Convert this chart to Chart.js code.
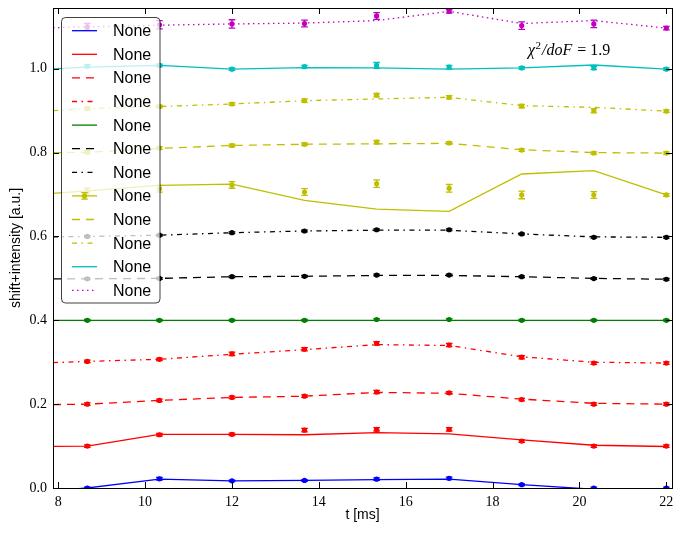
<!DOCTYPE html>
<html>
<head>
<meta charset="utf-8">
<script src="https://cdn.jsdelivr.net/npm/chart.js@4.4.1/dist/chart.umd.min.js"></script>
<style>
  html, body { margin: 0; padding: 0; background: #fff; }
  canvas { display: block; }
</style>
</head>
<body>
<canvas id="chart" width="683" height="533"></canvas>
<script>
// times of the measured points and of the fitted curves [ms]
const tPoints = [8.67, 10.33, 12.0, 13.67, 15.33, 17.0, 18.67, 20.33, 22.0];
const tFit = [7.88, 8.67, 10.33, 12.0, 13.67, 15.33, 17.0, 18.67, 20.33, 22.0];

const xTicks = [8, 10, 12, 14, 16, 18, 20, 22];
const yTicks = [0.0, 0.2, 0.4, 0.6, 0.8, 1.0];

const seriesLabels = ['None', 'None', 'None', 'None', 'None', 'None',
  'None', 'None', 'None', 'None', 'None', 'None'];

// fitted curves, one row per series (already shifted by 0.1 each)
const fitValues = [
  [-0.006, 0.000, 0.021, 0.017, 0.018, 0.020, 0.021, 0.008, -0.003, -0.003],
  [0.0995, 0.100, 0.128, 0.128, 0.127, 0.132, 0.129, 0.115, 0.102, 0.099],
  [0.199, 0.200, 0.209, 0.216, 0.219, 0.228, 0.226, 0.212, 0.202, 0.200],
  [0.299, 0.302, 0.307, 0.319, 0.330, 0.342, 0.340, 0.313, 0.300, 0.298],
  [0.400, 0.400, 0.400, 0.400, 0.400, 0.400, 0.400, 0.400, 0.400, 0.400],
  [0.499, 0.499, 0.500, 0.504, 0.505, 0.507, 0.507, 0.504, 0.500, 0.498],
  [0.599, 0.600, 0.603, 0.609, 0.613, 0.615, 0.615, 0.606, 0.599, 0.598],
  [0.703, 0.709, 0.722, 0.725, 0.686, 0.665, 0.660, 0.749, 0.757, 0.699],
  [0.800, 0.801, 0.810, 0.817, 0.820, 0.821, 0.822, 0.807, 0.800, 0.799],
  [0.900, 0.905, 0.910, 0.916, 0.924, 0.928, 0.932, 0.912, 0.908, 0.899],
  [1.000, 1.004, 1.008, 0.999, 1.003, 1.002, 0.999, 1.002, 1.009, 0.999],
  [1.098, 1.100, 1.104, 1.107, 1.109, 1.115, 1.137, 1.108, 1.115, 1.097]
];

// measured points
const pointValues = [
  [0.000, 0.022, 0.017, 0.018, 0.021, 0.023, 0.008, 0.000, 0.000],
  [0.100, 0.127, 0.128, 0.138, 0.140, 0.140, 0.112, 0.100, 0.100],
  [0.200, 0.209, 0.216, 0.219, 0.229, 0.227, 0.211, 0.200, 0.200],
  [0.302, 0.307, 0.320, 0.331, 0.345, 0.341, 0.312, 0.298, 0.298],
  [0.400, 0.400, 0.400, 0.400, 0.402, 0.402, 0.400, 0.400, 0.400],
  [0.499, 0.500, 0.504, 0.505, 0.508, 0.508, 0.504, 0.4995, 0.498],
  [0.600, 0.603, 0.609, 0.613, 0.616, 0.616, 0.606, 0.598, 0.598],
  [0.707, 0.714, 0.723, 0.706, 0.726, 0.715, 0.699, 0.699, 0.699],
  [0.801, 0.811, 0.817, 0.820, 0.825, 0.823, 0.806, 0.799, 0.799],
  [0.905, 0.910, 0.916, 0.924, 0.937, 0.932, 0.911, 0.900, 0.899],
  [1.006, 1.008, 0.999, 1.005, 1.008, 1.004, 1.002, 1.002, 0.999],
  [1.100, 1.105, 1.107, 1.108, 1.126, 1.137, 1.103, 1.107, 1.097]
];

// error bars (half widths)
const pointErrors = [
  [0.002, 0.003, 0.002, 0.002, 0.003, 0.003, 0.002, 0.002, 0.002],
  [0.003, 0.003, 0.003, 0.004, 0.004, 0.004, 0.003, 0.003, 0.003],
  [0.003, 0.003, 0.003, 0.003, 0.004, 0.003, 0.003, 0.003, 0.003],
  [0.003, 0.003, 0.004, 0.004, 0.004, 0.004, 0.004, 0.003, 0.003],
  [0.002, 0.002, 0.002, 0.002, 0.002, 0.002, 0.002, 0.002, 0.002],
  [0.002, 0.002, 0.002, 0.002, 0.002, 0.002, 0.002, 0.002, 0.002],
  [0.002, 0.002, 0.002, 0.002, 0.002, 0.002, 0.002, 0.002, 0.002],
  [0.008, 0.008, 0.008, 0.008, 0.009, 0.009, 0.009, 0.008, 0.003],
  [0.003, 0.003, 0.003, 0.003, 0.004, 0.003, 0.003, 0.003, 0.003],
  [0.003, 0.003, 0.003, 0.004, 0.004, 0.004, 0.004, 0.005, 0.003],
  [0.003, 0.003, 0.003, 0.003, 0.007, 0.004, 0.003, 0.004, 0.003],
  [0.008, 0.010, 0.010, 0.008, 0.008, 0.004, 0.009, 0.009, 0.004]
];

const colors = ['#0000ff', '#ff0000', '#ff0000', '#ff0000', '#008000', '#000000',
  '#000000', '#bfbf00', '#bfbf00', '#bfbf00', '#00bfbf', '#bf00bf'];
const DASH = [8, 6];
const DASHDOT = [5, 4.5, 1.5, 4.5];
const DOT = [1.5, 3.5];
const dashes = [[], [], DASH, DASHDOT, [], DASH, DASHDOT, [], DASH, DASHDOT, [], DOT];

const SERIF = '"Liberation Serif", "Times New Roman", serif';
const SANS = '"Liberation Sans", Arial, sans-serif';

const datasets = [];
colors.forEach((color, k) => {
  datasets.push({
    label: seriesLabels[k],
    data: tFit.map((t, i) => ({ x: t, y: fitValues[k][i] })),
    borderColor: color,
    borderWidth: 1.3,
    borderDash: dashes[k],
    pointRadius: 0,
    fill: false,
    tension: 0,
    clip: 0,
    isFit: true,
  });
});
colors.forEach((color, k) => {
  datasets.push({
    label: seriesLabels[k],
    data: tPoints.map((t, i) => ({ x: t, y: pointValues[k][i] })),
    showLine: false,
    pointRadius: 2.6,
    pointBorderWidth: 0,
    pointBackgroundColor: color,
    borderColor: color,
    clip: 0,
    errors: pointErrors[k],
  });
});

// error bars, frame with inward ticks, chi^2 note and the see-through legend
const decorations = {
  id: 'decorations',
  afterDatasetsDraw(chart) {
    const { ctx, chartArea: a } = chart;
    const yScale = chart.scales.y;
    ctx.save();
    ctx.beginPath();
    ctx.rect(a.left, a.top, a.right - a.left, a.bottom - a.top);
    ctx.clip();
    chart.data.datasets.forEach((ds, i) => {
      if (!ds.errors) return;
      const meta = chart.getDatasetMeta(i);
      ctx.strokeStyle = ds.borderColor;
      ctx.lineWidth = 1.3;
      meta.data.forEach((pt, j) => {
        const v = ds.data[j].y;
        const y1 = yScale.getPixelForValue(v - ds.errors[j]);
        const y2 = yScale.getPixelForValue(v + ds.errors[j]);
        ctx.beginPath();
        ctx.moveTo(pt.x, y1); ctx.lineTo(pt.x, y2);
        ctx.moveTo(pt.x - 3.3, y1); ctx.lineTo(pt.x + 3.3, y1);
        ctx.moveTo(pt.x - 3.3, y2); ctx.lineTo(pt.x + 3.3, y2);
        ctx.stroke();
      });
    });
    ctx.restore();
  },
  afterDraw(chart) {
    const { ctx, chartArea: a, scales } = chart;
    ctx.save();
    // frame
    ctx.strokeStyle = '#000';
    ctx.lineWidth = 1;
    ctx.strokeRect(Math.round(a.left) + 0.5, Math.round(a.top) + 0.5,
      Math.round(a.right - a.left), Math.round(a.bottom - a.top));
    // inward ticks on all four sides
    ctx.beginPath();
    scales.x.ticks.forEach(t => {
      const x = Math.round(scales.x.getPixelForValue(t.value)) + 0.5;
      ctx.moveTo(x, a.bottom); ctx.lineTo(x, a.bottom - 6);
      ctx.moveTo(x, a.top); ctx.lineTo(x, a.top + 6);
    });
    scales.y.ticks.forEach(t => {
      const y = Math.round(scales.y.getPixelForValue(t.value)) + 0.5;
      ctx.moveTo(a.left, y); ctx.lineTo(a.left + 6, y);
      ctx.moveTo(a.right, y); ctx.lineTo(a.right - 6, y);
    });
    ctx.stroke();

    // chi^2 / doF note
    let x = 528;
    const yb = 55;
    ctx.fillStyle = '#000';
    ctx.textBaseline = 'alphabetic';
    ctx.textAlign = 'left';
    ctx.font = 'italic 16px ' + SERIF;
    ctx.fillText('\u03c7', x, yb); x += ctx.measureText('\u03c7').width + 0.5;
    ctx.font = '11px ' + SERIF;
    ctx.fillText('2', x, yb - 6.5); x += ctx.measureText('2').width + 1;
    ctx.font = 'italic 16px ' + SERIF;
    ctx.fillText('/doF', x, yb); x += ctx.measureText('/doF').width + 5;
    ctx.font = '16px ' + SERIF;
    ctx.fillText('=', x, yb); x += ctx.measureText('=').width + 4;
    ctx.fillText('1.9', x, yb);

    // legend box
    const bx = 61.5, by = 17.5, bw = 98.5, bh = 285.5, r = 4;
    ctx.beginPath();
    ctx.moveTo(bx + r, by);
    ctx.arcTo(bx + bw, by, bx + bw, by + bh, r);
    ctx.arcTo(bx + bw, by + bh, bx, by + bh, r);
    ctx.arcTo(bx, by + bh, bx, by, r);
    ctx.arcTo(bx, by, bx + bw, by, r);
    ctx.closePath();
    ctx.fillStyle = 'rgba(255,255,255,0.75)';
    ctx.fill();
    ctx.strokeStyle = 'rgba(0,0,0,0.75)';
    ctx.lineWidth = 1;
    ctx.stroke();

    ctx.font = '16px ' + SANS;
    ctx.textBaseline = 'middle';
    const fits = chart.data.datasets.filter(d => d.isFit);
    fits.forEach((ds, k) => {
      const y = 30.7 + k * 23.6;
      ctx.strokeStyle = ds.borderColor;
      ctx.lineWidth = 1.3;
      ctx.setLineDash(ds.borderDash);
      ctx.beginPath();
      ctx.moveTo(72, y); ctx.lineTo(97, y);
      ctx.stroke();
      ctx.setLineDash([]);
      if (k === 7) {
        // this entry shows the errorbar handle
        ctx.fillStyle = ds.borderColor;
        ctx.beginPath(); ctx.arc(84.5, y, 2.6, 0, Math.PI * 2); ctx.fill();
        ctx.beginPath();
        ctx.moveTo(84.5, y - 3.3); ctx.lineTo(84.5, y + 3.3);
        ctx.moveTo(81.2, y - 3.3); ctx.lineTo(87.8, y - 3.3);
        ctx.moveTo(81.2, y + 3.3); ctx.lineTo(87.8, y + 3.3);
        ctx.stroke();
      }
      ctx.fillStyle = '#000';
      ctx.fillText(ds.label, 113, y + 1);
    });
    ctx.restore();
  }
};

new Chart(document.getElementById('chart'), {
  type: 'line',
  data: { datasets },
  options: {
    responsive: false,
    animation: false,
    events: [],
    layout: { padding: { top: 8, right: 11, left: 0, bottom: 0 } },
    plugins: { legend: { display: false }, tooltip: { enabled: false } },
    scales: {
      x: {
        type: 'linear',
        min: 7.88,
        max: 22.13,
        afterBuildTicks: s => { s.ticks = xTicks.map(v => ({ value: v })); },
        afterFit: s => { s.height = 45; s.paddingLeft = 0; s.paddingRight = 0; },
        grid: { display: false, drawTicks: false },
        border: { display: false },
        ticks: {
          padding: 6, maxRotation: 0, autoSkip: false, color: '#000',
          font: { family: SERIF, size: 14 },
          callback: v => String(v)
        },
        title: {
          display: true, text: 't [ms]', color: '#000',
          font: { family: SANS, size: 14 }, padding: { top: 0, bottom: 9 }
        }
      },
      y: {
        type: 'linear',
        min: 0,
        max: 1.145,
        afterBuildTicks: s => { s.ticks = yTicks.map(v => ({ value: v })); },
        afterFit: s => { s.width = 53; s.paddingTop = 0; s.paddingBottom = 0; },
        grid: { display: false, drawTicks: false },
        border: { display: false },
        ticks: {
          padding: 6, color: '#000',
          font: { family: SERIF, size: 14 },
          callback: v => v.toFixed(1)
        },
        title: {
          display: true, text: 'shift+intensity [a.u.]', color: '#000',
          font: { family: SANS, size: 14 }, padding: { top: 8, bottom: 0 }
        }
      }
    }
  },
  plugins: [decorations]
});
</script>
</body>
</html>
